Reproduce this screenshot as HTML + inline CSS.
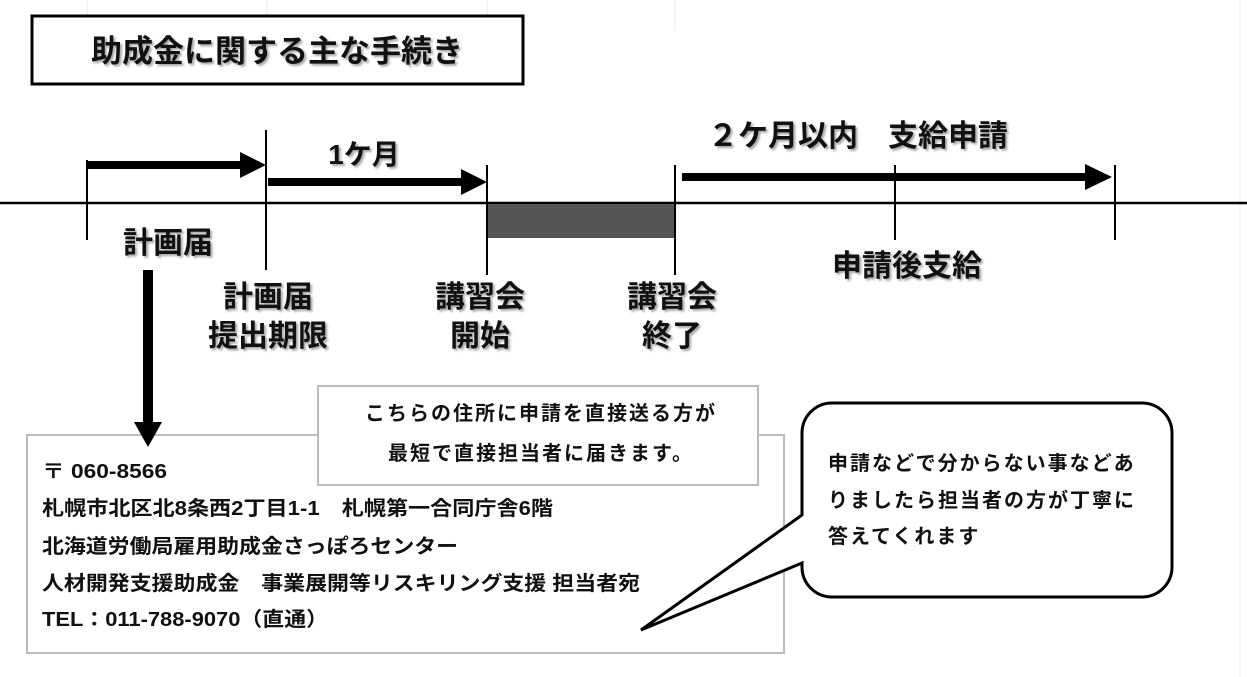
<!DOCTYPE html>
<html><head><meta charset="utf-8"><style>
body{margin:0;background:#fff;}
svg{display:block;}
text{font-family:"Liberation Sans","Noto Sans CJK JP",sans-serif;font-weight:bold;fill:#111;}
.sh{filter:drop-shadow(2px 2px 1px rgba(0,0,0,0.35));}
</style></head><body>
<svg width="1247" height="677" viewBox="0 0 1247 677" xmlns="http://www.w3.org/2000/svg">
<g stroke="#eaeaea" stroke-width="1">
<line x1="87" y1="0" x2="87" y2="15"/><line x1="267" y1="0" x2="267" y2="15"/><line x1="487" y1="0" x2="487" y2="15"/><line x1="675" y1="0" x2="675" y2="30"/><line x1="1240" y1="0" x2="1240" y2="677"/>
</g>
<rect x="32" y="16" width="491" height="68" fill="#fff" stroke="#000" stroke-width="3"/>
<text x="277" y="62" font-size="31" text-anchor="middle" class="sh">助成金に関する主な手続き</text>
<line x1="0" y1="203" x2="1247" y2="203" stroke="#000" stroke-width="2.5"/>
<rect x="487" y="204" width="188" height="34" fill="#555"/>
<g stroke="#000" stroke-width="2">
<line x1="87" y1="160" x2="87" y2="240"/>
<line x1="266" y1="130" x2="266" y2="270"/>
<line x1="487" y1="165" x2="487" y2="275"/>
<line x1="675" y1="165" x2="675" y2="275"/>
<line x1="895" y1="165" x2="895" y2="240"/>
<line x1="1115" y1="165" x2="1115" y2="240"/>
</g>
<g fill="#000">
<rect x="87" y="161" width="155" height="8"/><polygon points="240,152 266,165 240,178"/>
<rect x="268" y="178" width="195" height="8"/><polygon points="461,169 487,182 461,195"/>
<rect x="682" y="173" width="405" height="8"/><polygon points="1085,164 1112,177 1085,190"/>
</g>
<g class="sh" font-size="30">
<text x="364" y="164" text-anchor="middle" font-size="28">1ケ月</text>
<text x="858" y="146" text-anchor="middle">２ケ月以内　支給申請</text>
<text x="168" y="253" text-anchor="middle">計画届</text>
<text x="268" y="307" text-anchor="middle">計画届</text>
<text x="268" y="346" text-anchor="middle">提出期限</text>
<text x="480" y="307" text-anchor="middle">講習会</text>
<text x="480" y="346" text-anchor="middle">開始</text>
<text x="672" y="307" text-anchor="middle">講習会</text>
<text x="672" y="346" text-anchor="middle">終了</text>
<text x="907" y="276" text-anchor="middle">申請後支給</text>
</g>
<rect x="27" y="435" width="757" height="218" fill="#fff" stroke="#bbb" stroke-width="2"/>
<g fill="#000">
<rect x="143" y="270" width="10" height="156"/><polygon points="134,422 162,422 148,447"/>
</g>
<g font-size="20">
<text x="42" y="478" textLength="125" lengthAdjust="spacingAndGlyphs">〒 060-8566</text>
<text x="42" y="515" textLength="511" lengthAdjust="spacingAndGlyphs">札幌市北区北8条西2丁目1-1　札幌第一合同庁舎6階</text>
<text x="42" y="553" textLength="416" lengthAdjust="spacingAndGlyphs">北海道労働局雇用助成金さっぽろセンター</text>
<text x="42" y="590" textLength="598" lengthAdjust="spacingAndGlyphs">人材開発支援助成金　事業展開等リスキリング支援 担当者宛</text>
<text x="42" y="626" textLength="286" lengthAdjust="spacingAndGlyphs">TEL：011-788-9070（直通）</text>
</g>
<rect x="318" y="386" width="440" height="99" fill="#fff" stroke="#bbb" stroke-width="2"/>
<text x="541" y="420" font-size="20" text-anchor="middle" letter-spacing="2">こちらの住所に申請を直接送る方が</text>
<text x="541" y="460" font-size="20" text-anchor="middle" letter-spacing="2">最短で直接担当者に届きます。</text>
<path d="M832,403 H1142 A30,30 0 0 1 1172,433 V567 A30,30 0 0 1 1142,597 H832 A30,30 0 0 1 802,567 V563 L641,630 L802,515 V433 A30,30 0 0 1 832,403 Z" fill="#fff" stroke="#000" stroke-width="3" stroke-linejoin="miter"/>
<g font-size="20" letter-spacing="2">
<text x="828" y="470">申請などで分からない事などあ</text>
<text x="828" y="507">りましたら担当者の方が丁寧に</text>
<text x="828" y="543">答えてくれます</text>
</g>
</svg>
</body></html>
